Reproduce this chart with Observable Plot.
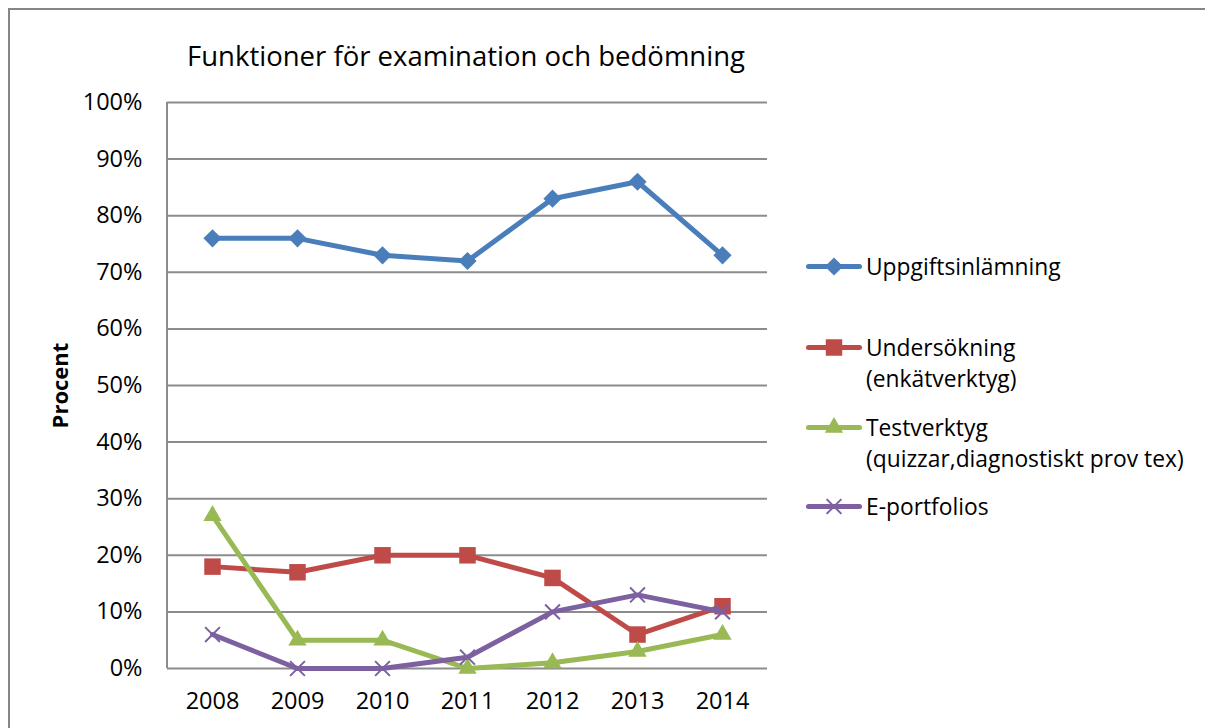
<!DOCTYPE html>
<html>
<head>
<meta charset="utf-8">
<script src="https://cdn.jsdelivr.net/npm/d3@7"></script>
<script src="https://cdn.jsdelivr.net/npm/@observablehq/plot@0.6"></script>
<style>
  html, body { margin: 0; padding: 0; background: #fff; }
  #wrap { position: relative; width: 1205px; height: 728px; overflow: hidden; font-family: "Open Sans", sans-serif; }
  #border { position: absolute; left: 8px; top: 8px; width: 1300px; height: 800px; border-left: 2px solid #868686; border-top: 2px solid #868686; }
  #title { position: absolute; left: 166px; width: 600px; top: 37px; text-align: center; font-size: 27.5px; color: #000; white-space: nowrap; }
  #legend { position: absolute; left: 806px; top: 0; font-size: 22.8px; color: #000; }
  .item { position: absolute; left: 0; display: flex; align-items: flex-start; white-space: nowrap; }
  .item svg { flex: none; }
  .item .lbl { margin-left: 4px; line-height: 31px; }
  #chart { position: absolute; left: 0; top: 0; }
</style>
</head>
<body>
<div id="wrap">
  <div id="chart"></div>
  <div id="border"></div>
  <div id="title">Funktioner för examination och bedömning</div>
  <div id="legend"></div>
</div>
<script>
const years = ["2008", "2009", "2010", "2011", "2012", "2013", "2014"];
const uppgift = [0.76, 0.76, 0.73, 0.72, 0.83, 0.86, 0.73];
const undersokning = [0.18, 0.17, 0.20, 0.20, 0.16, 0.06, 0.11];
const testverktyg = [0.27, 0.05, 0.05, 0.00, 0.01, 0.03, 0.06];
const eportfolios = [0.06, 0.00, 0.00, 0.02, 0.10, 0.13, 0.10];
const yTicks = [0, 0.1, 0.2, 0.3, 0.4, 0.5, 0.6, 0.7, 0.8, 0.9, 1.0];

const seriesNames = ["Uppgiftsinlämning", "Undersökning (enkätverktyg)", "Testverktyg (quizzar,diagnostiskt prov tex)", "E-portfolios"];
const legendLines = [["Uppgiftsinlämning"], ["Undersökning", "(enkätverktyg)"], ["Testverktyg", "(quizzar,diagnostiskt prov tex)"], ["E-portfolios"]];
const colors = ["#4a7ebb", "#be4b48", "#98b954", "#7d60a0"];
const symbols = ["diamond2", "square", "triangle", "times"];
const radii = [8.2, 9.3, 6.8, 6.8];
const values = [uppgift, undersokning, testverktyg, eportfolios];

const data = values.flatMap((vals, s) => vals.map((v, i) => ({series: seriesNames[s], year: years[i], value: v, s})));

const axisLine = (index, scales, vals, dims) => {
  const g = d3.create("svg:g");
  g.append("line")
    .attr("x1", dims.marginLeft).attr("x2", dims.marginLeft)
    .attr("y1", dims.marginTop).attr("y2", dims.height - dims.marginBottom)
    .attr("stroke", "#8c8c8c").attr("stroke-width", 2);
  return g.node();
};

const marks = [
  Plot.gridY(yTicks, {stroke: "#8c8c8c", strokeOpacity: 1, strokeWidth: 2}),
  axisLine,
  Plot.axisY(yTicks, {tickSize: 0, tickPadding: 25, tickFormat: d3.format(".0%"), fontSize: 23.5, fill: "#000", label: null}),
  Plot.axisX({tickSize: 0, tickPadding: 24, fontSize: 23.5, fill: "#000", label: null}),
  Plot.text(["Procent"], {frameAnchor: "left", textAnchor: "middle", dx: -107, rotate: -90, fontSize: 22, fontWeight: "bold", fill: "#000"})
];
values.forEach((vals, s) => {
  const d = data.filter(r => r.s === s);
  marks.push(Plot.line(d, {x: "year", y: "value", stroke: colors[s], strokeWidth: 5, strokeLinejoin: "round", strokeLinecap: "round"}));
  if (symbols[s] === "times") {
    marks.push(Plot.dot(d, {x: "year", y: "value", symbol: "times", r: radii[s], stroke: colors[s], strokeWidth: 2}));
  } else {
    marks.push(Plot.dot(d, {x: "year", y: "value", symbol: symbols[s], r: radii[s], fill: colors[s], stroke: "none"}));
  }
});

const chart = Plot.plot({
  width: 1205,
  height: 728,
  marginLeft: 167,
  marginRight: 438,
  marginTop: 102,
  marginBottom: 60,
  style: {fontFamily: "Open Sans, sans-serif", background: "transparent"},
  x: {type: "point", domain: years, padding: 0.5, label: null},
  y: {domain: [0, 1], label: null},
  marks
});
document.getElementById("chart").appendChild(chart);

// Legend (HTML, beside the chart)
const legend = document.getElementById("legend");
const tops = [251, 332, 412, 491];
legendLines.forEach((lines, s) => {
  const item = document.createElement("div");
  item.className = "item";
  item.style.top = tops[s] + "px";
  const svg = d3.create("svg").attr("width", 56).attr("height", 31);
  svg.append("line").attr("x1", 2.5).attr("x2", 53.5).attr("y1", 15.5).attr("y2", 15.5)
    .attr("stroke", colors[s]).attr("stroke-width", 5).attr("stroke-linecap", "round");
  const sym = {diamond2: d3.symbolDiamond2, square: d3.symbolSquare, triangle: d3.symbolTriangle, times: d3.symbolTimes}[symbols[s]];
  const path = svg.append("path").attr("transform", "translate(28,15.5)")
    .attr("d", d3.symbol(sym, Math.PI * radii[s] * radii[s])());
  if (symbols[s] === "times") path.attr("stroke", colors[s]).attr("stroke-width", 2).attr("fill", "none");
  else path.attr("fill", colors[s]);
  item.appendChild(svg.node());
  const lbl = document.createElement("div");
  lbl.className = "lbl";
  lbl.innerHTML = lines.join("<br>");
  item.appendChild(lbl);
  legend.appendChild(item);
});
</script>
</body>
</html>
